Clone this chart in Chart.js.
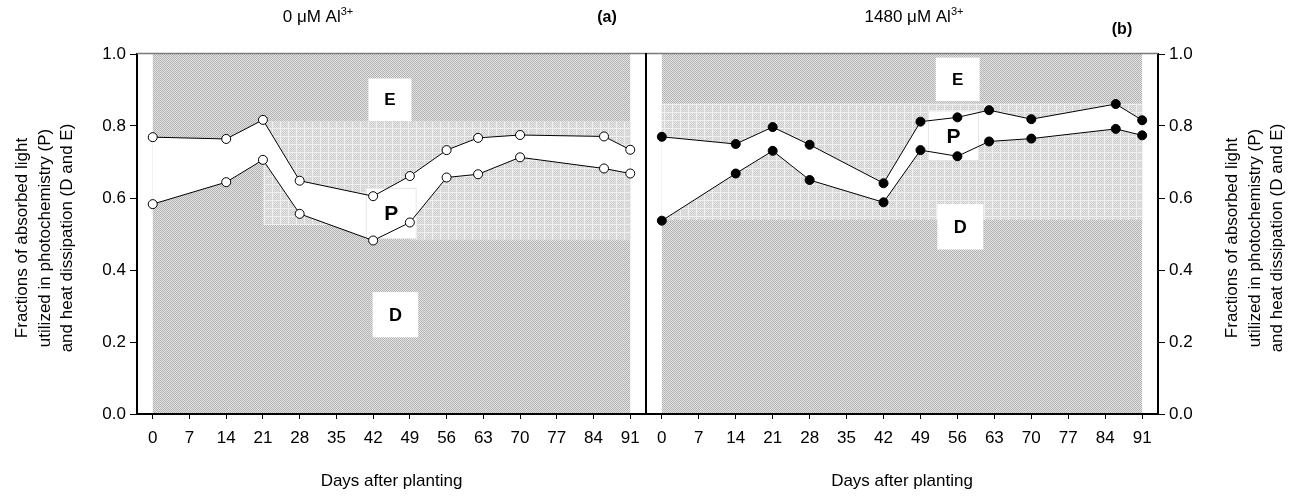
<!DOCTYPE html>
<html>
<head>
<meta charset="utf-8">
<script src="https://cdn.jsdelivr.net/npm/chart.js@4.4.1/dist/chart.umd.min.js"></script>
<style>
  body { margin: 0; background: #fff; }
  #wrap { position: relative; width: 1301px; height: 497px; }
  canvas { position: absolute; top: 0; }
</style>
</head>
<body>
<div id="wrap">
  <canvas id="chartA" width="660" height="497" style="left:0px"></canvas>
  <canvas id="chartB" width="669" height="497" style="left:632px"></canvas>
</div>
<script>
// sampling days and fractions (lower line = D/P boundary, upper line = P/E boundary)
const dayTicks = [0, 7, 14, 21, 28, 35, 42, 49, 56, 63, 70, 77, 84, 91];
const yTicks = [0, 0.2, 0.4, 0.6, 0.8, 1.0];

const daysA = [0, 14, 21, 28, 42, 49, 56, 62, 70, 86, 91];
const upperA = [0.769, 0.764, 0.817, 0.648, 0.605, 0.661, 0.733, 0.767, 0.775, 0.771, 0.734];
const lowerA = [0.583, 0.644, 0.706, 0.556, 0.482, 0.532, 0.657, 0.666, 0.713, 0.682, 0.668];

const daysB = [0, 14, 21, 28, 42, 49, 56, 62, 70, 86, 91];
const upperB = [0.770, 0.750, 0.797, 0.748, 0.641, 0.812, 0.824, 0.844, 0.819, 0.861, 0.816];
const lowerB = [0.537, 0.668, 0.731, 0.650, 0.588, 0.733, 0.716, 0.757, 0.765, 0.792, 0.774];

const yTitle = ['Fractions of absorbed light', 'utilized in photochemistry (P)', 'and heat dissipation (D and E)'];

const FONT = '"Liberation Sans", Arial, sans-serif';

function toPoints(days, vals) {
  return days.map((d, i) => ({ x: d, y: vals[i] }));
}

// hatched fills
function makeTile(size, paint) {
  const c = document.createElement('canvas');
  c.width = size; c.height = size;
  paint(c.getContext('2d'), size);
  return c;
}
const denseTile = makeTile(2, (g) => {
  g.fillStyle = '#e2e2e2'; g.fillRect(0, 0, 2, 2);
  g.fillStyle = '#b4b4b4'; g.fillRect(0, 0, 1, 1); g.fillRect(1, 1, 1, 1);
});
const lightTile = makeTile(8, (g, n) => {
  g.fillStyle = '#e6e6e6'; g.fillRect(0, 0, n, n);
  g.fillStyle = '#cdcdcd';
  for (let i = 0; i < n; i++) for (let j = 0; j < n; j++) if ((i + j) % 2 === 0) g.fillRect(i, j, 1, 1);
  g.fillStyle = '#f0f0f0';
  g.fillRect(0, 0, n, 1); g.fillRect(0, 0, 1, n);
});

function drawSup(ctx, main, sup, cx, baseY, size) {
  ctx.font = size + 'px ' + FONT;
  const w1 = ctx.measureText(main).width;
  const supSize = Math.round(size * 0.65);
  ctx.font = supSize + 'px ' + FONT;
  const w2 = ctx.measureText(sup).width;
  const x0 = cx - (w1 + w2) / 2;
  ctx.textAlign = 'left';
  ctx.textBaseline = 'alphabetic';
  ctx.font = size + 'px ' + FONT;
  ctx.fillText(main, x0, baseY);
  ctx.font = supSize + 'px ' + FONT;
  ctx.fillText(sup, x0 + w1, baseY - size * 0.42);
}

const panelDecor = {
  id: 'panelDecor',
  beforeDraw(chart, args, o) {
    const { ctx, scales: { x, y } } = chart;
    ctx.save();
    ctx.fillStyle = ctx.createPattern(denseTile, 'repeat');
    const x0 = x.getPixelForValue(dayTicks[0]), x1 = x.getPixelForValue(dayTicks[dayTicks.length - 1]);
    ctx.fillRect(x0, y.getPixelForValue(1), x1 - x0, y.getPixelForValue(0) - y.getPixelForValue(1));
    ctx.fillStyle = ctx.createPattern(lightTile, 'repeat');
    o.bands.forEach(b => {
      const bx = x.getPixelForValue(b[0]), by = y.getPixelForValue(b[3]);
      ctx.fillRect(bx, by, x.getPixelForValue(b[1]) - bx, y.getPixelForValue(b[2]) - by);
    });
    ctx.restore();
  },
  beforeDatasetsDraw(chart, args, o) {
    const { ctx, scales: { x, y } } = chart;
    ctx.save();
    o.boxes.forEach(b => {
      const bx = x.getPixelForValue(b.x0), by = y.getPixelForValue(b.y1);
      const w = x.getPixelForValue(b.x1) - bx, h = y.getPixelForValue(b.y0) - by;
      ctx.fillStyle = '#fff';
      ctx.fillRect(bx, by, w, h);
      if (b.outline) {
        ctx.strokeStyle = '#e6e6e6';
        ctx.lineWidth = 1;
        ctx.strokeRect(bx + 0.5, by + 0.5, w - 1, h - 1);
      }
      ctx.fillStyle = '#000';
      ctx.font = 'bold ' + b.size + 'px ' + FONT;
      ctx.textAlign = 'center';
      ctx.textBaseline = 'middle';
      ctx.fillText(b.text, bx + w / 2, by + h / 2 + 1);
    });
    ctx.restore();
  },
  afterDraw(chart, args, o) {
    const { ctx, chartArea: a } = chart;
    ctx.save();
    // top frame (grey) and the shared divider between the panels
    ctx.strokeStyle = '#7a7a7a';
    ctx.lineWidth = 1.5;
    ctx.beginPath(); ctx.moveTo(a.left, a.top - 0.5); ctx.lineTo(a.right, a.top - 0.5); ctx.stroke();
    ctx.strokeStyle = '#000';
    ctx.lineWidth = 2;
    const dx = o.side === 'left' ? a.right : a.left;
    ctx.beginPath(); ctx.moveTo(dx, a.top - 1); ctx.lineTo(dx, a.bottom); ctx.stroke();

    ctx.fillStyle = '#000';
    drawSup(ctx, o.title[0], o.title[1], o.titleX, 22, 17);
    ctx.font = 'bold 16px ' + FONT;
    ctx.textAlign = 'center';
    ctx.textBaseline = 'middle';
    ctx.fillText(o.tag, o.tagX, o.tagY);

    // rotated y-axis title, read bottom to top
    ctx.font = '17px ' + FONT;
    ctx.textBaseline = 'middle';
    yTitle.forEach((line, i) => {
      ctx.save();
      ctx.translate(o.yTitleX[i], (a.top + a.bottom) / 2 + 4);
      ctx.rotate(-Math.PI / 2);
      ctx.fillText(line, 0, 0);
      ctx.restore();
    });
    ctx.restore();
  }
};

function lineSet(days, vals, filled, fillBelow) {
  return {
    data: toPoints(days, vals),
    borderColor: '#000',
    borderWidth: 1,
    tension: 0,
    pointRadius: 4.5,
    pointHoverRadius: 4.5,
    pointBorderWidth: 1,
    pointBorderColor: '#000',
    pointBackgroundColor: filled ? '#000' : '#fff',
    backgroundColor: '#fff',
    fill: fillBelow ? '-1' : false
  };
}

function buildChart(id, cfg) {
  const tickFont = { size: 17, family: FONT };
  return new Chart(document.getElementById(id), {
    type: 'line',
    data: {
      datasets: [
        lineSet(cfg.days, cfg.lower, cfg.filled, false),
        lineSet(cfg.days, cfg.upper, cfg.filled, true)
      ]
    },
    options: {
      responsive: false,
      animation: false,
      events: [],
      layout: { padding: cfg.padding },
      scales: {
        x: {
          type: 'linear',
          min: -3,
          max: 94,
          afterBuildTicks: s => { s.ticks = dayTicks.map(v => ({ value: v })); },
          afterFit: s => { s.height = 83; },
          ticks: { autoSkip: false, maxRotation: 0, color: '#000', font: tickFont, padding: 9, callback: v => String(v) },
          grid: { display: true, drawOnChartArea: false, drawTicks: true, tickLength: 5, color: '#000', lineWidth: 1 },
          border: { display: true, color: '#000', width: 2 },
          title: { display: true, text: 'Days after planting', color: '#000', font: tickFont, padding: { top: 0, bottom: 5 } }
        },
        y: {
          type: 'linear',
          position: cfg.side,
          min: 0,
          max: 1,
          afterBuildTicks: s => { s.ticks = yTicks.map(v => ({ value: v })); },
          afterFit: s => { s.width = cfg.yWidth; },
          ticks: { color: '#000', font: tickFont, padding: 4, callback: v => v.toFixed(1) },
          grid: { display: true, drawOnChartArea: false, drawTicks: true, tickLength: 7, color: '#000', lineWidth: 1 },
          border: { display: true, color: '#000', width: 2 }
        }
      },
      plugins: {
        legend: { display: false },
        tooltip: { enabled: false },
        filler: { propagate: false, drawTime: 'beforeDatasetsDraw' },
        panelDecor: cfg.decor
      }
    },
    plugins: [panelDecor]
  });
}

buildChart('chartA', {
  days: daysA, upper: upperA, lower: lowerA, filled: false,
  side: 'left', yWidth: 137,
  padding: { left: 0, top: 54, right: 14, bottom: 0 },
  decor: {
    side: 'left',
    title: ['0 \u03bcM Al', '3+'], titleX: 318,
    tag: '(a)', tagX: 607, tagY: 18,
    yTitleX: [22, 45, 67],
    bands: [[21, 91, 0.525, 0.814], [49, 91, 0.483, 0.525]],
    boxes: [
      { text: 'E', x0: 41.1, x1: 49.3, y0: 0.814, y1: 0.932, size: 17 },
      { text: 'P', x0: 40.6, x1: 50.3, y0: 0.486, y1: 0.628, size: 21, outline: true },
      { text: 'D', x0: 41.9, x1: 50.6, y0: 0.213, y1: 0.339, size: 18 }
    ]
  }
});

buildChart('chartB', {
  days: daysB, upper: upperB, lower: lowerB, filled: true,
  side: 'right', yWidth: 143,
  padding: { left: 14, top: 54, right: 0, bottom: 0 },
  decor: {
    side: 'right',
    title: ['1480 \u03bcM Al', '3+'], titleX: 282,
    tag: '(b)', tagX: 490, tagY: 30,
    yTitleX: [600, 623, 645],
    bands: [[0, 91, 0.539, 0.863]],
    boxes: [
      { text: 'E', x0: 51.9, x1: 60.2, y0: 0.869, y1: 0.990, size: 17 },
      { text: 'P', x0: 50.4, x1: 60.1, y0: 0.703, y1: 0.843, size: 21, outline: true },
      { text: 'D', x0: 52.2, x1: 60.9, y0: 0.457, y1: 0.583, size: 18 }
    ]
  }
});
</script>
</body>
</html>
